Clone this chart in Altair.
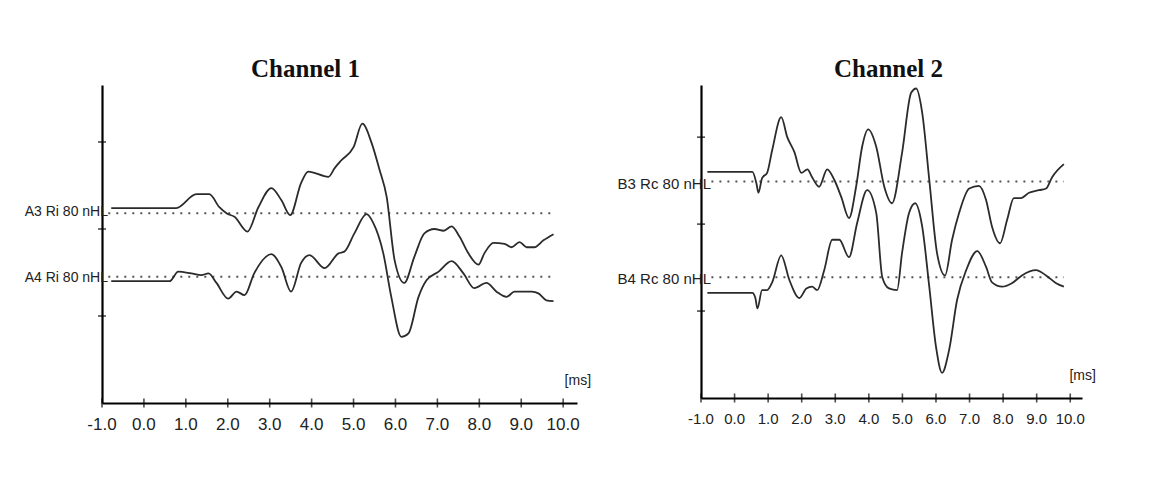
import altair as alt
import pandas as pd

# ---------------- data ----------------
# time axis [ms]
x_ticks = [-1.0, 0.0, 1.0, 2.0, 3.0, 4.0, 5.0, 6.0, 7.0, 8.0, 9.0, 10.0]
y_ticks = [1, 2, 3]

# Channel 1
a3_t = [-0.78, 0.77, 1.25, 1.56, 1.80, 1.97, 2.16, 2.47, 2.73, 3.04, 3.28, 3.49, 3.75, 3.92, 4.40, 4.55,
        4.71, 5.00, 5.21, 5.43, 5.62, 5.79, 5.98, 6.21, 6.45, 6.69, 6.93, 7.15, 7.34, 7.53, 7.74, 7.98,
        8.12, 8.34, 8.60, 8.77, 8.96, 9.13, 9.31, 9.53, 9.77]
a3_v = [2.24, 2.24, 2.40, 2.40, 2.25, 2.18, 2.14, 1.97, 2.25, 2.47, 2.33, 2.16, 2.53, 2.66, 2.60, 2.70,
        2.79, 2.94, 3.21, 2.99, 2.68, 2.37, 1.64, 1.38, 1.68, 1.95, 2.00, 1.98, 2.03, 1.91, 1.72, 1.59,
        1.72, 1.84, 1.83, 1.79, 1.85, 1.79, 1.79, 1.87, 1.94]
a4_t = [-0.78, 0.61, 0.82, 1.13, 1.37, 1.54, 1.73, 2.01, 2.21, 2.40, 2.63, 3.04, 3.28, 3.51, 3.75, 3.95,
        4.31, 4.64, 4.78, 5.02, 5.31, 5.47, 5.71, 5.90, 6.14, 6.31, 6.55, 6.74, 7.03, 7.34, 7.62, 7.88,
        8.17, 8.41, 8.65, 8.84, 9.25, 9.41, 9.60, 9.77]
a4_v = [1.40, 1.40, 1.51, 1.49, 1.47, 1.49, 1.38, 1.20, 1.28, 1.24, 1.49, 1.71, 1.56, 1.28, 1.61, 1.70,
        1.55, 1.72, 1.74, 1.95, 2.17, 2.07, 1.72, 1.22, 0.76, 0.80, 1.22, 1.41, 1.51, 1.63, 1.49, 1.32,
        1.38, 1.28, 1.22, 1.28, 1.28, 1.26, 1.18, 1.17]
ch1_labels = ["A3 Ri 80 nHL", "A4 Ri 80 nHL"]
ch1_base = [2.18, 1.45]

# Channel 2
b3_t = [-0.81, 0.53, 0.65, 0.71, 0.82, 0.97, 1.12, 1.39, 1.57, 1.78, 1.99, 2.17, 2.31, 2.52, 2.76, 2.97,
        3.18, 3.41, 3.62, 3.80, 3.98, 4.22, 4.46, 4.69, 4.99, 5.26, 5.41, 5.59, 5.80, 6.03, 6.27, 6.48,
        6.69, 6.99, 7.28, 7.49, 7.67, 7.91, 8.12, 8.32, 8.53, 8.77, 9.07, 9.28, 9.46, 9.81]
b3_v = [2.60, 2.60, 2.47, 2.36, 2.53, 2.59, 2.85, 3.23, 3.00, 2.83, 2.59, 2.63, 2.54, 2.43, 2.63, 2.51,
        2.31, 2.07, 2.43, 2.89, 3.09, 2.89, 2.43, 2.24, 2.82, 3.51, 3.56, 3.28, 2.51, 1.67, 1.41, 1.82,
        2.13, 2.41, 2.44, 2.28, 1.97, 1.78, 2.05, 2.30, 2.30, 2.36, 2.39, 2.41, 2.54, 2.69]
b4_t = [-0.81, 0.53, 0.62, 0.68, 0.82, 0.97, 1.12, 1.39, 1.63, 1.93, 2.14, 2.31, 2.46, 2.67, 2.91, 3.12,
        3.41, 3.65, 3.95, 4.22, 4.40, 4.60, 4.84, 4.99, 5.20, 5.38, 5.59, 5.80, 6.00, 6.18, 6.39, 6.63,
        6.90, 7.23, 7.49, 7.67, 7.97, 8.26, 8.56, 8.98, 9.28, 9.58, 9.81]
b4_v = [1.21, 1.21, 1.15, 1.03, 1.24, 1.24, 1.33, 1.64, 1.36, 1.15, 1.26, 1.28, 1.24, 1.47, 1.82, 1.82,
        1.62, 2.01, 2.39, 2.13, 1.39, 1.26, 1.24, 1.67, 2.13, 2.24, 1.97, 1.28, 0.59, 0.29, 0.55, 1.13,
        1.47, 1.69, 1.51, 1.33, 1.28, 1.32, 1.41, 1.47, 1.41, 1.32, 1.28]
ch2_labels = ["B3 Rc 80 nHL", "B4 Rc 80 nHL"]
ch2_base = [2.49, 1.39]

SANS = "Liberation Sans, Arial, sans-serif"
SERIF = "Liberation Serif, Times New Roman, serif"


def panel(title, title_dx, traces, labels, bases, base_span, label_dx, label_dy,
          xdom, ydom, width, height, tick_font, label_font, lab_pad):
    xs = alt.Scale(domain=xdom, nice=False, zero=False)
    ys = alt.Scale(domain=ydom, nice=False, zero=False)
    # axis line only; the tick labels are drawn as text through the same x scale
    xaxis = alt.Axis(labels=False, ticks=False, grid=False, domainColor="black", title=None,
                     domainWidth=2)
    yaxis = alt.Axis(labels=False, ticks=False, grid=False, domainColor="black", domainWidth=2.2,
                     title=None)
    tr = []
    for name, (tt, vv) in traces.items():
        tr.append(pd.DataFrame({"t": tt, "v": vv, "s": name}))
    tdf = pd.concat(tr)

    lines = alt.Chart(tdf).mark_line(color="#2b2b2b", strokeWidth=1.8, interpolate="monotone").encode(
        x=alt.X("t:Q", scale=xs, axis=xaxis),
        y=alt.Y("v:Q", scale=ys, axis=yaxis),
        detail="s:N",
    )
    bdf = pd.DataFrame({"v": bases, "t0": [base_span[0]] * 2, "t1": [base_span[1]] * 2})
    dots = alt.Chart(bdf).mark_rule(color="#555", strokeWidth=2, strokeDash=[2, 6]).encode(
        x=alt.X("t0:Q", scale=xs, axis=xaxis), x2="t1:Q", y=alt.Y("v:Q", scale=ys, axis=yaxis))
    texts = []
    for lab, b, dy in zip(labels, bases, label_dy):
        texts.append(alt.Chart(pd.DataFrame({"lab": [lab], "v": [b]})).mark_text(
            align="right", baseline="middle", dx=label_dx, dy=dy, font=SANS, fontSize=label_font,
            color="#222").encode(x=alt.datum(-1.0), y=alt.Y("v:Q", scale=ys, axis=yaxis), text="lab:N"))
    tick_df = pd.DataFrame({"t": x_ticks,
                            "lab": [("-" if v < 0 else "") + f"{abs(v):.1f}" for v in x_ticks]})
    xt = alt.Chart(tick_df).mark_tick(
        orient="vertical", size=9, thickness=1.6, color="black").encode(
        x=alt.X("t:Q", scale=xs, axis=xaxis), y=alt.datum(0))
    xl = alt.Chart(tick_df).mark_text(
        font=SANS, fontSize=tick_font, color="#222", baseline="top", align="center", dy=lab_pad).encode(
        x=alt.X("t:Q", scale=xs, axis=xaxis), y=alt.datum(0), text="lab:N")
    yt = alt.Chart(pd.DataFrame({"v": y_ticks})).mark_tick(
        orient="horizontal", size=8, thickness=1.6, color="black").encode(
        x=alt.datum(-1.0), y=alt.Y("v:Q", scale=ys, axis=yaxis))
    ms = alt.Chart(pd.DataFrame({"lab": ["[ms]"]})).mark_text(
        font=SANS, fontSize=14, color="#222", align="center", baseline="middle").encode(
        x=alt.datum(xdom[1] + 0.02), y=alt.datum(0.25), text="lab:N")
    return alt.layer(dots, lines, xt, xl, yt, *texts, ms).properties(
        width=width, height=height,
        title=alt.TitleParams(title, font=SERIF, fontSize=25, fontWeight="bold", color="#111",
                              anchor="middle", dx=title_dx, offset=-17, baseline="alphabetic"))


left = panel("Channel 1", -34, {"A3": (a3_t, a3_v), "A4": (a4_t, a4_v)}, ch1_labels, ch1_base,
             (-0.85, 9.73), 6, [-1, 1], [-1.0, 10.33], [0, 3.655], 475, 318, 17, 14, 14)
right = panel("Channel 2", -3, {"B3": (b3_t, b3_v), "B4": (b4_t, b4_v)}, ch2_labels, ch2_base,
              (-0.69, 9.81), 10, [2, 1.5], [-1.0, 10.35], [0, 3.6], 381, 313, 15, 15, 14)

chart = alt.hconcat(left, right, spacing=25).resolve_scale(x="independent", y="independent").properties(
    padding={"left": 24, "top": 56, "right": 5, "bottom": 5}, background="white"
).configure_view(stroke=None)

chart.save("out.html", embed_options={"renderer": "svg", "actions": False})
